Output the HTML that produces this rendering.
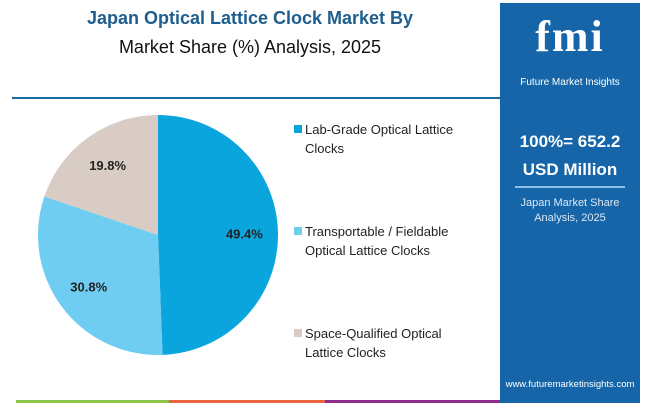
<!DOCTYPE html>
<html><head><meta charset="utf-8"><style>
body{margin:0;width:650px;height:405px;background:#fff;font-family:"Liberation Sans",sans-serif;position:relative;overflow:hidden}
.abs{position:absolute}
.leg{position:absolute;left:305px;font-size:13px;color:#222;line-height:19px}
.sw{position:absolute;left:-11px;top:5px;width:8px;height:8px}
</style></head><body>
<div class="abs" style="left:0;width:500px;top:8px;text-align:center;font-size:18px;font-weight:bold;color:#1d5e8e">Japan Optical Lattice Clock Market By</div>
<div class="abs" style="left:0;width:500px;top:37px;text-align:center;font-size:18px;color:#111">Market Share (%) Analysis, 2025</div>
<div class="abs" style="left:12px;top:97px;width:490px;height:2px;background:#1a6aa3"></div>
<div class="abs" style="left:500px;top:3px;width:140px;height:400px;background:#1565a8">
 <div style="position:absolute;top:8px;width:140px;text-align:center;color:#fff;font-size:44px;font-weight:bold;font-family:'Liberation Serif',serif;letter-spacing:2px">fmi</div>
 <div style="position:absolute;top:74px;width:140px;text-align:center;color:#fff;font-size:10px">Future Market Insights</div>
 <div style="position:absolute;top:125px;width:140px;text-align:center;color:#fff;font-size:17px;font-weight:bold;line-height:28px">100%= 652.2<br>USD Million</div>
 <div style="position:absolute;top:183px;left:15px;width:110px;height:2px;background:#8cc0e8"></div>
 <div style="position:absolute;top:193px;width:140px;text-align:center;color:#dbe9f6;font-size:11px;line-height:15px">Japan Market Share<br>Analysis, 2025</div>
 <div style="position:absolute;top:376px;width:140px;text-align:center;color:#fff;font-size:9.5px">www.futuremarketinsights.com</div>
</div>
<div class="abs" style="left:16px;top:400px;width:153px;height:3px;background:#8bc34a"></div>
<div class="abs" style="left:169px;top:400px;width:156px;height:3px;background:#e8643a"></div>
<div class="abs" style="left:325px;top:400px;width:175px;height:3px;background:#8e2c8c"></div>
<svg class="abs" style="left:0;top:0" width="500" height="405" id="pie"></svg>
<div class="leg" style="top:120px"><span class="sw" style="background:#0ba5dd"></span>Lab-Grade Optical Lattice<br>Clocks</div>
<div class="leg" style="top:222px"><span class="sw" style="background:#6fcdf1"></span>Transportable / Fieldable<br>Optical Lattice Clocks</div>
<div class="leg" style="top:324px"><span class="sw" style="background:#d8ccc5"></span>Space-Qualified Optical<br>Lattice Clocks</div>
<script>
const categories=["Lab-Grade Optical Lattice Clocks","Transportable / Fieldable Optical Lattice Clocks","Space-Qualified Optical Lattice Clocks"];
const shares=[49.4,30.8,19.8];
const labels=["49.4%","30.8%","19.8%"];
const colors=["#0ba5dd","#6fcdf1","#d8ccc5"];
const svg=document.getElementById('pie');const NS='http://www.w3.org/2000/svg';
const cx=158,cy=235,r=120;const total=shares.reduce((a,b)=>a+b,0);
let a0=0;
shares.forEach((v,i)=>{
 const a1=a0+v/total*2*Math.PI;
 const p=(a)=>[cx+r*Math.sin(a),cy-r*Math.cos(a)];
 const [x0,y0]=p(a0),[x1,y1]=p(a1);
 const path=document.createElementNS(NS,'path');
 path.setAttribute('d',`M${cx},${cy}L${x0},${y0}A${r},${r} 0 ${a1-a0>Math.PI?1:0} 1 ${x1},${y1}Z`);
 path.setAttribute('fill',colors[i]);
 
 
 svg.appendChild(path);
 const m=(a0+a1)/2,lr=r*0.72;
 const t=document.createElementNS(NS,'text');
 t.setAttribute('x',cx+lr*Math.sin(m));t.setAttribute('y',cy-lr*Math.cos(m)+5);
 t.setAttribute('text-anchor','middle');t.setAttribute('font-size','13');t.setAttribute('font-weight','bold');t.setAttribute('fill','#222');
 t.setAttribute('font-family','Liberation Sans, sans-serif');
 
 
 t.textContent=labels[i];svg.appendChild(t);
 a0=a1;
});
</script>
</body></html>
